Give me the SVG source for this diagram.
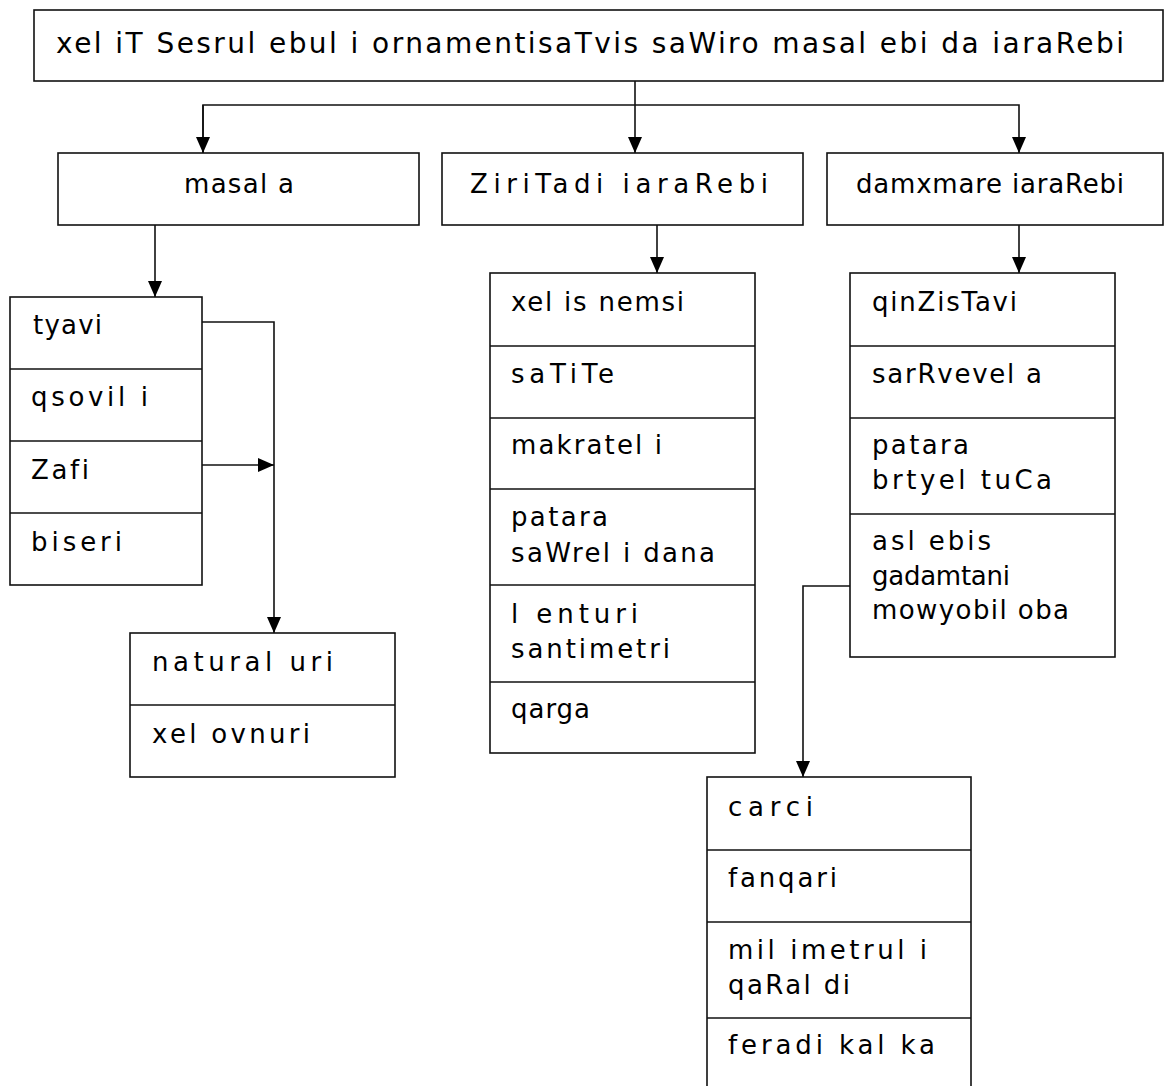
<svg xmlns="http://www.w3.org/2000/svg" width="1167" height="1086" viewBox="0 0 1167 1086">
<style>
  .box { fill: #fff; stroke: #111; stroke-width: 1.6; }
  .div { stroke: #111; stroke-width: 1.6; }
  .con { fill: none; stroke: #111; stroke-width: 1.6; }
  text { font-family: "DejaVu Sans", "Liberation Sans", sans-serif; font-size: 26px; fill: #000; font-variant-ligatures: none; }
  .title { font-size: 28px; }
</style>
<defs>
  <marker id="arr" markerUnits="userSpaceOnUse" markerWidth="17" markerHeight="16" refX="16" refY="7" orient="auto">
    <path d="M0,0 L16,7 L0,14 z" fill="#000"/>
  </marker>
</defs>
<rect width="1167" height="1086" fill="#fff"/>

<g id="connectors">
  <line class="con" x1="635" y1="81" x2="635" y2="153" marker-end="url(#arr)"/>
  <polyline class="con" points="203,153 203,105 1019,105 1019,153" marker-end="url(#arr)"/>
  <line class="con" x1="203" y1="105" x2="203" y2="153" marker-end="url(#arr)"/>
  <line class="con" x1="155" y1="225" x2="155" y2="297" marker-end="url(#arr)"/>
  <line class="con" x1="657" y1="225" x2="657" y2="273" marker-end="url(#arr)"/>
  <line class="con" x1="1019" y1="225" x2="1019" y2="273" marker-end="url(#arr)"/>
  <polyline class="con" points="202,322 274,322 274,633" marker-end="url(#arr)"/>
  <line class="con" x1="202" y1="465" x2="274" y2="465" marker-end="url(#arr)"/>
  <polyline class="con" points="850,586 803,586 803,777" marker-end="url(#arr)"/>
</g>

<g id="node-title">
  <rect class="box" x="34" y="10" width="1129" height="71"/>
  <text class="title" x="56" y="53" textLength="1068">xel iT Sesrul ebul i ornamentisaTvis saWiro masal ebi da iaraRebi</text>
</g>

<g id="node-masala">
  <rect class="box" x="58" y="153" width="361" height="72"/>
  <text x="184" y="193" textLength="110">masal a</text>
</g>

<g id="node-ziritadi">
  <rect class="box" x="442" y="153" width="361" height="72"/>
  <text x="470" y="193" textLength="298">ZiriTadi iaraRebi</text>
</g>

<g id="node-damxmare">
  <rect class="box" x="827" y="153" width="336" height="72"/>
  <text x="856" y="193" textLength="268">damxmare iaraRebi</text>
</g>

<g id="node-masala-list">
  <rect class="box" x="10" y="297" width="192" height="288"/>
  <line class="div" x1="10" y1="369" x2="202" y2="369"/>
  <line class="div" x1="10" y1="441" x2="202" y2="441"/>
  <line class="div" x1="10" y1="513" x2="202" y2="513"/>
  <text x="33" y="334" textLength="69">tyavi</text>
  <text x="31" y="406" textLength="117">qsovil i</text>
  <text x="31" y="479" textLength="58">Zafi</text>
  <text x="31" y="551" textLength="91">biseri</text>
</g>

<g id="node-natural">
  <rect class="box" x="130" y="633" width="265" height="144"/>
  <line class="div" x1="130" y1="705" x2="395" y2="705"/>
  <text x="152" y="671" textLength="181">natural uri</text>
  <text x="152" y="743" textLength="158">xel ovnuri</text>
</g>

<g id="node-ziritadi-list">
  <rect class="box" x="490" y="273" width="265" height="480"/>
  <line class="div" x1="490" y1="346" x2="755" y2="346"/>
  <line class="div" x1="490" y1="418" x2="755" y2="418"/>
  <line class="div" x1="490" y1="489" x2="755" y2="489"/>
  <line class="div" x1="490" y1="585" x2="755" y2="585"/>
  <line class="div" x1="490" y1="682" x2="755" y2="682"/>
  <text x="511" y="311" textLength="173">xel is nemsi</text>
  <text x="511" y="383" textLength="103">saTiTe</text>
  <text x="511" y="454" textLength="151">makratel i</text>
  <text x="511" y="526" textLength="97">patara</text>
  <text x="511" y="562" textLength="204">saWrel i dana</text>
  <text x="511" y="623" textLength="127">l enturi</text>
  <text x="511" y="658" textLength="159">santimetri</text>
  <text x="511" y="718" textLength="79">qarga</text>
</g>

<g id="node-damxmare-list">
  <rect class="box" x="850" y="273" width="265" height="384"/>
  <line class="div" x1="850" y1="346" x2="1115" y2="346"/>
  <line class="div" x1="850" y1="418" x2="1115" y2="418"/>
  <line class="div" x1="850" y1="514" x2="1115" y2="514"/>
  <text x="872" y="311" textLength="145">qinZisTavi</text>
  <text x="872" y="383" textLength="170">sarRvevel a</text>
  <text x="872" y="454" textLength="97">patara</text>
  <text x="872" y="489" textLength="180">brtyel tuCa</text>
  <text x="872" y="550" textLength="119">asl ebis</text>
  <text x="872" y="585" textLength="138">gadamtani</text>
  <text x="872" y="619" textLength="197">mowyobil oba</text>
</g>

<g id="node-carci-list">
  <rect class="box" x="707" y="777" width="264" height="320"/>
  <line class="div" x1="707" y1="850" x2="971" y2="850"/>
  <line class="div" x1="707" y1="922" x2="971" y2="922"/>
  <line class="div" x1="707" y1="1018" x2="971" y2="1018"/>
  <text x="728" y="816" textLength="85">carci</text>
  <text x="728" y="887" textLength="109">fanqari</text>
  <text x="728" y="959" textLength="199">mil imetrul i</text>
  <text x="728" y="994" textLength="122">qaRal di</text>
  <text x="728" y="1054" textLength="207">feradi kal ka</text>
</g>
</svg>
